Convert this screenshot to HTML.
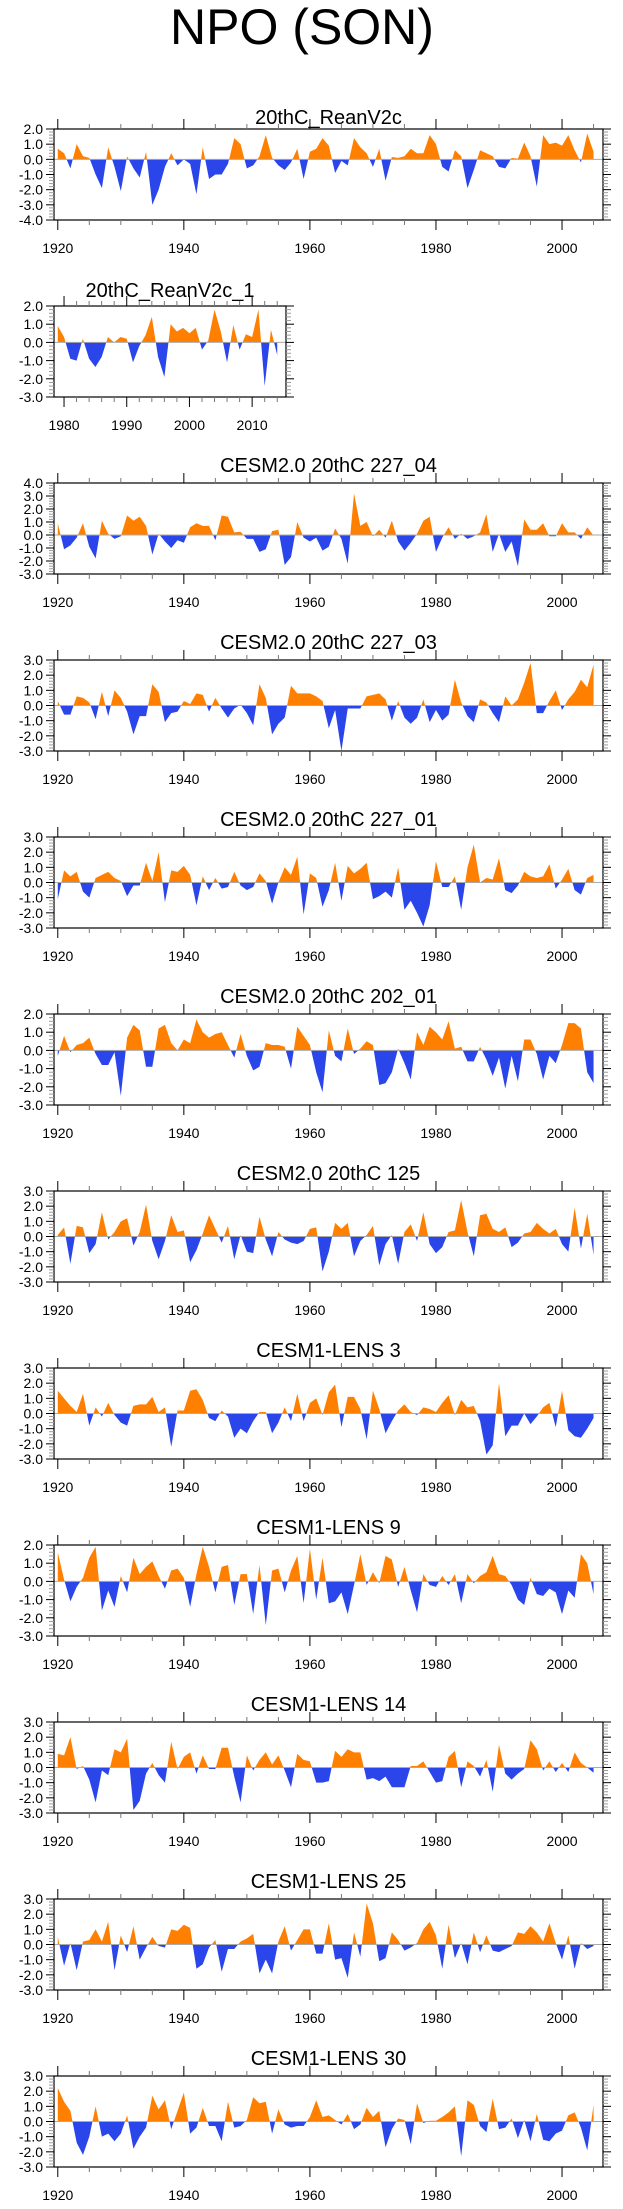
<!DOCTYPE html>
<html><head><meta charset="utf-8"><title>NPO (SON)</title>
<style>
html,body{margin:0;padding:0;background:#fff;}
svg{display:block;font-family:"Liberation Sans",Arial,sans-serif;}
</style></head>
<body>
<svg id="fig" width="623" height="2209" viewBox="0 0 623 2209" xmlns="http://www.w3.org/2000/svg">
<text x="302" y="44" font-size="50" text-anchor="middle" fill="#000">NPO (SON)</text>
</svg>
<script>
// ---- data (years 1920..2005 unless noted) ----
const panelTitles = ["20thC_ReanV2c","20thC_ReanV2c_1","CESM2.0 20thC 227_04","CESM2.0 20thC 227_03","CESM2.0 20thC 227_01","CESM2.0 20thC 202_01","CESM2.0 20thC 125","CESM1-LENS 3","CESM1-LENS 9","CESM1-LENS 14","CESM1-LENS 25","CESM1-LENS 30"];
const yMaxes = [2,2,4,3,3,2,3,3,2,3,3,3];
const yMins = [-4,-3,-3,-3,-3,-3,-3,-3,-3,-3,-3,-3];
const startYears = [1920,1979,1920,1920,1920,1920,1920,1920,1920,1920,1920,1920];
const xTickLabelsLong = [1920,1940,1960,1980,2000];
const xTickLabelsShort = [1980,1990,2000,2010];

const reanV2c = [0.7,0.4,-0.6,1.0,0.2,0.1,-1.0,-1.9,0.8,-0.5,
-2.1,0.2,-0.6,-1.2,0.5,-3.0,-2.0,-0.5,0.4,-0.4,
0,-0.3,-2.3,0.8,-1.3,-1.0,-1.0,-0.3,1.4,1.0,
-0.6,-0.4,0.2,1.6,0.1,-0.4,-0.7,-0.2,0.7,-1.3,
0.5,0.7,1.4,0.9,-0.9,-0.1,-0.4,1.4,0.8,0.4,
-0.5,0.7,-1.4,0.15,0.1,0.2,0.7,0.4,0.4,1.6,
1.0,-0.5,-0.8,0.6,0.2,-1.9,-0.7,0.6,0.4,0.2,
-0.5,-0.6,0.1,0.05,1.1,0.2,-1.8,1.6,1.0,1.1,
0.9,1.6,0.6,-0.2,1.7,0.5];
const reanV2c1 = [0.9,0.3,-0.9,-1.0,0.2,-0.9,-1.35,-0.8,0.3,0.0,0.3,0.2,-1.1,-0.2,0.4,1.4,-0.8,-1.9,1.0,0.6,0.8,0.5,0.8,-0.4,0.1,1.8,0.6,-1.1,0.95,-0.4,0.45,0.3,1.8,-2.4,0.7,-0.7];
const cesm2_227_04 = [0.9,-1.1,-0.8,-0.2,0.9,-0.9,-1.8,1.1,0.1,-0.3,
-0.1,1.5,1.1,1.4,0.7,-1.5,0.1,-0.5,-1.0,-0.4,
-0.6,0.6,0.9,0.7,0.7,-0.4,1.5,1.4,0.2,0.25,
-0.3,-0.3,-1.3,-1.1,0.3,0.4,-2.3,-1.7,1.0,-0.2,
-0.5,-0.2,-1.2,-0.9,0.5,-0.3,-2.2,3.2,0.7,1.0,
-0.1,0.4,-0.2,1.1,-0.5,-1.2,-0.6,0.1,1.1,1.4,
-1.3,-0.2,0.6,-0.3,0.1,-0.3,-0.1,0.2,1.6,-1.3,
0.1,-1.3,-0.5,-2.4,1.2,0.4,0.4,0.9,-0.1,-0.1,
0.9,0.2,0.2,-0.3,0.6,-0.05];
const cesm2_227_03 = [0.3,-0.6,-0.6,0.6,0.5,0.2,-0.9,0.9,-0.7,1.0,
0.5,-0.4,-1.9,-0.7,-0.7,1.4,0.9,-1.1,-0.5,-0.4,
0.3,0.1,0.8,0.7,-0.4,0.5,-0.2,-0.8,-0.2,0.05,
-0.5,-1.3,1.4,0.5,-1.9,-1.2,-0.8,1.3,0.8,0.8,
0.8,0.6,0.3,-1.5,-0.3,-3.0,-0.2,-0.2,-0.2,0.6,
0.7,0.8,0.4,-1.0,0.3,-0.8,-1.2,-0.8,0.4,-1.1,
-0.3,-1.0,-0.6,1.7,0.2,-0.7,-1.1,0.4,0.2,-0.5,
-1.1,0.6,0.0,0.4,1.5,2.8,-0.5,-0.5,0.3,1.0,
-0.3,0.4,0.9,1.7,1.2,2.7];
const cesm2_227_01 = [-1.1,0.8,0.4,0.7,-0.6,-1.0,0.3,0.5,0.7,0.3,
0.1,-0.9,-0.2,-0.2,1.3,0.1,2.0,-1.3,0.8,0.7,
1.1,0.5,-1.5,0.4,-0.5,0.3,-0.4,-0.3,0.7,-0.2,
-0.5,-0.3,0.6,0.1,-1.4,0.0,1.0,0.5,1.7,-2.1,
0.6,0.3,-1.6,-0.5,1.3,-1.2,1.1,0.6,0.9,1.3,
-1.1,-0.9,-0.6,-1.0,1.0,-1.8,-1.2,-2.0,-2.9,-1.5,
1.4,-0.3,-0.3,0.4,-1.8,1.0,2.5,0.0,0.3,0.2,
1.6,-0.5,-0.7,-0.2,0.7,0.4,0.3,0.4,1.2,-0.4,
0.2,0.9,-0.5,-0.8,0.3,0.5];
const cesm2_202_01 = [-0.3,0.8,-0.1,0.3,0.4,0.7,-0.2,-0.8,-0.8,-0.1,
-2.5,0.7,1.4,1.1,-0.9,-0.9,1.2,1.4,0.4,0.0,
0.6,0.4,1.7,1.0,0.7,0.9,1.0,0.3,-0.4,0.9,
-0.3,-1.1,-0.9,0.4,0.3,0.3,0.2,-1.0,1.3,0.8,
0.3,-1.2,-2.3,1.1,-0.3,-0.6,1.2,-0.2,0.1,0.5,
0.3,-1.9,-1.8,-1.2,0.1,-0.7,-1.6,1.0,0.3,1.3,
1.0,0.6,1.6,0.1,0.2,-0.6,-0.6,0.2,-0.5,-1.4,
-0.4,-2.1,-0.3,-1.7,0.6,0.6,-0.2,-1.6,-0.3,-0.7,
0.3,1.5,1.5,1.2,-1.2,-1.8];
const cesm2_125 = [0.1,0.6,-1.8,0.7,0.6,-1.1,-0.5,1.6,-0.2,0.3,
1.0,1.2,-0.6,0.3,2.1,-0.3,-1.5,-0.3,1.4,0.3,
0.4,-1.7,-0.9,0.2,1.4,0.5,-0.4,0.7,-1.5,0.1,
-1.0,-1.1,1.3,-0.2,-1.3,0.3,-0.2,-0.4,-0.5,-0.3,
0.5,0.6,-2.3,-1.0,0.9,0.5,0.9,-1.3,-0.3,0.1,
0.7,-1.9,-0.5,0.1,-1.8,0.3,0.8,-0.3,1.6,-0.5,
-1.1,-0.7,0.3,0.4,2.4,0.3,-1.3,1.4,1.5,0.5,
0.3,0.6,-0.7,-0.4,0.2,0.3,0.9,0.5,0.2,0.5,
-0.5,-1.0,1.9,-0.8,1.5,-1.2];
const lens3 = [1.5,1.0,0.5,0.1,1.3,-0.8,0.4,-0.2,0.7,-0.1,
-0.6,-0.8,0.5,0.6,0.6,1.1,0.1,0.4,-2.2,0.2,
0.2,1.5,1.6,0.9,-0.3,-0.5,0.2,-0.2,-1.6,-1.0,
-1.3,-0.5,0.1,0.1,-1.3,-0.6,0.4,-0.5,1.3,-0.5,
0.7,1.0,-0.1,1.4,1.9,-0.9,1.1,1.1,0.3,-1.7,
1.5,0.3,-1.3,-0.5,0.2,0.6,0.1,-0.1,0.4,0.3,
0.1,0.7,1.2,-0.1,0.9,0.4,0.5,-0.5,-2.7,-2.1,
2.0,-1.5,-0.8,-0.8,0.0,-0.7,-0.2,0.4,0.7,-0.9,
1.5,-1.1,-1.5,-1.6,-1.0,-0.3];
const lens9 = [1.6,0.1,-1.1,-0.3,0.2,1.3,1.9,-1.6,-0.5,-1.4,
0.3,-0.6,1.3,0.4,0.8,1.1,0.3,-0.4,0.6,0.7,
0.2,-1.4,0.4,1.9,0.8,-0.6,0.8,0.9,-1.3,0.4,
0.4,-1.8,0.9,-2.4,0.6,0.7,-0.6,0.6,1.4,-1.2,
1.8,-1.0,1.3,-1.2,-1.1,-0.6,-1.8,-0.2,1.5,-0.2,
0.5,-0.1,1.4,1.2,-0.3,0.8,-0.5,-1.7,0.4,-0.2,
-0.3,0.3,-0.2,0.4,-1.2,0.4,-0.1,0.3,0.5,1.4,
0.4,0.3,-0.2,-1.0,-1.3,0.2,-0.7,-0.8,-0.4,-0.6,
-1.8,-0.5,-0.9,1.5,1.0,-0.7];
const lens14 = [0.9,0.8,2.0,-0.1,0.1,-0.8,-2.3,-0.2,-0.5,1.2,
1.0,1.9,-2.8,-2.2,-0.4,0.3,-0.5,-1.0,1.7,-0.1,
0.7,1.0,-0.4,0.8,-0.1,-0.1,1.3,1.3,-0.6,-2.3,
0.8,-0.2,0.5,1.0,0.2,0.8,-0.2,-1.3,0.9,0.5,
0.4,-1.0,-1.0,-0.9,1.1,0.7,1.2,1.0,1.0,-0.8,
-0.7,-0.9,-0.6,-1.3,-1.3,-1.3,0.1,0.1,0.4,-0.3,
-1.0,-0.9,0.7,1.1,-1.3,0.4,0.1,-0.6,0.5,-1.6,
1.5,-0.4,-0.8,-0.4,-0.1,1.8,1.2,-0.2,0.4,-0.3,
0.3,-0.3,1.0,0.3,0.0,-0.35];
const lens25 = [0.5,-1.4,0.1,-1.7,0.2,0.3,1.0,0.2,1.5,-1.7,
0.6,-0.5,1.2,-1.0,-0.2,0.5,-0.1,-0.2,1.0,0.9,
1.3,1.1,-1.6,-1.3,-0.2,0.3,-1.8,-0.3,-0.3,0.2,
0.4,0.7,-1.9,-1.0,-1.9,0.2,1.2,-0.4,0.3,1.0,
1.0,-0.6,-0.6,1.4,-1.0,-0.9,-2.2,0.8,-0.8,2.7,
1.4,-1.1,-0.9,0.8,0.3,-0.4,-0.2,0.1,1.0,1.5,
0.6,-1.6,1.3,-0.9,0.1,-1.3,0.8,-0.5,0.6,-0.4,
-0.5,-0.3,-0.1,0.8,0.7,1.2,0.8,0.2,1.4,0.1,
-1.0,0.6,-1.6,0.1,-0.3,-0.1];
const lens30 = [2.2,1.3,0.7,-1.4,-2.2,-1.0,1.0,-1.0,-0.8,-1.3,
-0.8,0.4,-1.8,-1.0,-0.4,1.7,0.8,1.4,-0.5,0.7,
1.9,-0.8,-0.4,0.9,-0.3,-0.3,-1.3,1.3,-0.4,-0.3,
0.1,1.6,1.2,1.3,-0.8,0.8,-0.2,-0.4,-0.3,-0.3,
0.3,1.4,0.3,0.4,0.1,-0.2,0.5,-0.5,-0.2,0.9,
0.3,0.7,-1.7,-0.5,0.2,0.1,-1.5,1.2,-0.1,0.05,
0.05,0.3,0.6,1.0,-2.3,1.4,1.1,-0.3,-0.7,1.5,
-0.5,-0.4,0.2,-1.1,0.1,-1.3,0.5,-1.2,-1.3,-0.8,
-0.6,0.4,0.6,-0.4,-1.9,1.1];
const seriesList = [reanV2c,reanV2c1,cesm2_227_04,cesm2_227_03,cesm2_227_01,cesm2_202_01,cesm2_125,lens3,lens9,lens14,lens25,lens30];

// ---- drawing ----
const NS = "http://www.w3.org/2000/svg";
const svg = document.getElementById("fig");
function mk(tag, attrs, parent){
  const e = document.createElementNS(NS, tag);
  for (const k in attrs) e.setAttribute(k, attrs[k]);
  (parent||svg).appendChild(e);
  return e;
}
const ORANGE = "#ff8000", BLUE = "#2a45ea";
const titleOffsets = [5,9,11,11,11,11,11,11,11,11,11,11];

seriesList.forEach((vals, p) => {
  const short = (p === 1);
  const top = 129 + 177*p, H = 91, bot = top + H;
  const L = 54, R = short ? 286 : 603;
  const x0 = short ? 1978.4 : 1919.4, x1 = short ? 2015.4 : 2006.5;
  const ymax = yMaxes[p], ymin = yMins[p];
  const xs = yr => L + (yr - x0) * (R - L) / (x1 - x0);
  const ys = v => top + (ymax - v) * H / (ymax - ymin);
  const g = mk("g", {});
  
  

  const t = mk("text", {x:(L+R)/2, y: top - titleOffsets[p], "font-size":20, "text-anchor":"middle", fill:"#000"}, g);
  
  
  t.textContent = panelTitles[p];

  const z = ys(0);
  // clip paths
  const cpA = mk("clipPath", {id:"ca"+p}, g);
  mk("rect", {x:L, y:top, width:R-L, height:z-top}, cpA);
  const cpB = mk("clipPath", {id:"cb"+p}, g);
  mk("rect", {x:L, y:z, width:R-L, height:bot-z}, cpB);
  const sy = startYears[p];
  let d = "M" + xs(sy).toFixed(2) + "," + z.toFixed(2);
  vals.forEach((v,i) => { d += " L" + xs(sy+i).toFixed(2) + "," + ys(v).toFixed(2); });
  d += " L" + xs(sy+vals.length-1).toFixed(2) + "," + z.toFixed(2) + " Z";
  const pa = mk("path", {d:d, fill:ORANGE, "clip-path":"url(#ca"+p+")"}, g);
  
  
  const pb = mk("path", {d:d, fill:BLUE, "clip-path":"url(#cb"+p+")"}, g);
  
  
  const zl = mk("line", {x1:L, x2:R, y1:z, y2:z, stroke:"#aaa", "stroke-width":1}, g);
  
  

  // box
  const box = mk("rect", {x:L, y:top, width:R-L, height:H, fill:"none", stroke:"#000", "stroke-width":1.2}, g);
  
  

  // x ticks
  const majStep = short ? 10 : 20, minStep = short ? 2 : 5;
  const xStart = Math.ceil(x0/minStep)*minStep;
  for (let yr = xStart; yr <= x1; yr += minStep) {
    const x = xs(yr), maj = (yr % majStep === 0);
    const len = maj ? 10 : 5;
    mk("line", {x1:x, x2:x, y1:bot, y2:bot+len, stroke: maj?"#000":"#777", "stroke-width":1}, g);
    mk("line", {x1:x, x2:x, y1:top, y2:top-len, stroke: maj?"#000":"#777", "stroke-width":1}, g);
  }
  const labs = short ? xTickLabelsShort : xTickLabelsLong;
  labs.forEach(yr => {
    const tx = mk("text", {x:xs(yr), y:bot+33, "font-size":14, "text-anchor":"middle", fill:"#000"}, g);
    
    
    tx.textContent = String(yr);
  });
  // y ticks
  for (let k = Math.round(ymin*5); k <= Math.round(ymax*5); k++) {
    const v = k/5, y = ys(v), maj = (k % 5 === 0);
    const len = maj ? 8 : 5;
    mk("line", {x1:L, x2:L-len, y1:y, y2:y, stroke: maj?"#000":"#999", "stroke-width":1}, g);
    mk("line", {x1:R, x2:R+len, y1:y, y2:y, stroke: maj?"#000":"#999", "stroke-width":1}, g);
    if (maj) {
      const ty = mk("text", {x:43, y:y+5, "font-size":14, "text-anchor":"end", fill:"#000"}, g);
      
      
      ty.textContent = v.toFixed(1);
    }
  }
});
</script>
</body></html>
